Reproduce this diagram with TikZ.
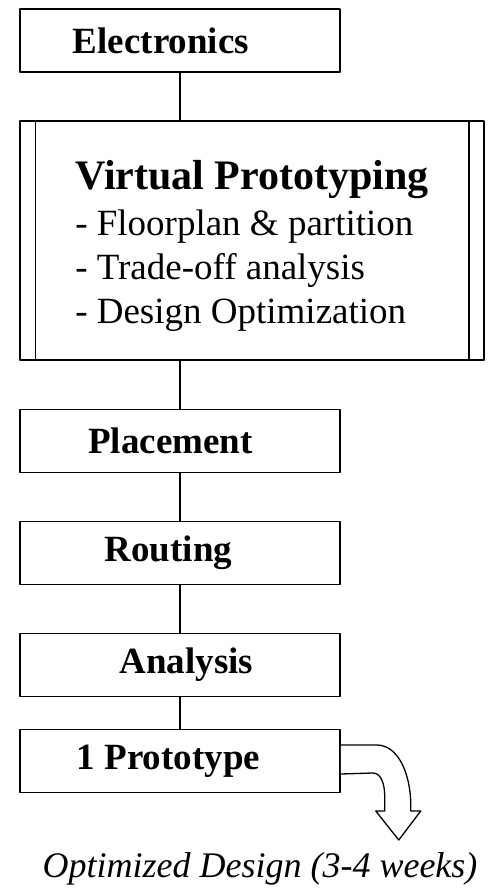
\documentclass[tikz,border=0pt]{standalone}
\usepackage{fontspec}
\setmainfont{Liberation Serif}
\usetikzlibrary{positioning}

\begin{document}
\begin{tikzpicture}[x=1pt,y=-1pt,line join=round,
bx/.style={draw,line width=1.5pt,minimum width=320pt,minimum height=63pt,inner sep=0pt,font=\fontsize{37}{44}\selectfont\bfseries},
vpx/.style={draw,line width=1.5pt,minimum width=464pt,minimum height=239pt,inner sep=0pt,align=left,font=\fontsize{37}{44}\selectfont},
ln/.style={line width=1.5pt},
arw/.style={line width=1.3pt,fill=white}]
\useasboundingbox (0,0) rectangle (494,895);
\node[bx] (elec) at (180,40.5) {Electronics\hspace*{38pt}};
\node[vpx] (vp) at (252,240.5) {\rule{0pt}{40pt}{\fontsize{42}{46}\selectfont\bfseries Virtual Prototyping}\\[2pt]
- Floorplan \& partition\\- Trade-off analysis\\- Design Optimization};
\draw[ln] ([xshift=16pt]vp.north west) -- ([xshift=16pt]vp.south west);
\draw[ln] ([xshift=-16pt]vp.north east) -- ([xshift=-16pt]vp.south east);
\node[bx] (place) at (180,441) {Placement\hspace*{19pt}};
\node[bx] (rout) at (180,553) {Routing\hspace*{23pt}};
\node[bx] (anal) at (180,665) {\hspace*{13pt}Analysis};
\node[bx] (proto) at (180,761) {1 Prototype\hspace*{23pt}};
\node[font=\fontsize{36}{40}\selectfont\itshape] (optim) at (260,869) {Optimized Design (3-4 weeks)};
% connectors between the steps
\draw[ln] (elec) -- (elec |- vp.north);
\draw[ln] (vp.south -| place) -- (place);
\draw[ln] (place) -- (rout);
\draw[ln] (rout) -- (anal);
\draw[ln] (anal) -- (proto);
% bent block arrow out of the prototype
\draw[arw] ([yshift=16pt]proto.east) -- ++(36,0) .. controls +(22,0) and +(0,-30) .. ++(34,60)
 -- ++(0,6) -- ++(10,0) -- ++(-22,29) -- ++(-23,-29) -- ++(9,0) -- ++(0,-14)
 .. controls +(0,-14) and +(8,0) .. ++(-12,-24) -- ([yshift=-13pt]proto.east);
\end{tikzpicture}
\end{document}
